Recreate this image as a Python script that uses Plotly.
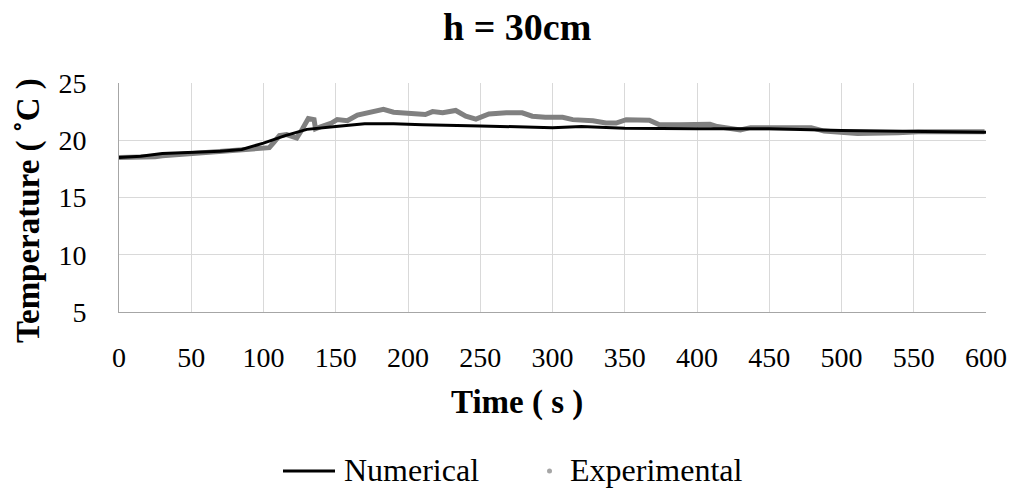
import plotly.graph_objects as go

# Numerical series
num_t = [0, 15, 30, 50, 70, 85, 100, 115, 130, 150, 170, 190, 210, 250, 300, 320, 350, 400, 450, 500, 550, 600]
num_v = [18.5, 18.6, 18.85, 18.95, 19.05, 19.2, 19.75, 20.4, 20.95, 21.2, 21.45, 21.45, 21.35, 21.25, 21.1, 21.2, 21.05, 21.0, 21.0, 20.85, 20.75, 20.7]

# Experimental series
exp_t = [0, 10, 20, 25, 30, 40, 50, 60, 70, 80, 90, 100, 104, 107, 111, 116, 120, 123, 127, 131, 135, 136,
         140, 147, 151, 158, 165, 174, 183, 190, 198, 204, 212, 217, 224, 233, 240, 247, 256, 268, 279,
         286, 295, 307, 314, 328, 337, 344, 351, 367, 374, 388, 409, 414, 430, 437, 465, 479, 488, 511,
         539, 553, 599]
exp_v = [18.5, 18.5, 18.5, 18.55, 18.65, 18.75, 18.85, 18.9, 19.0, 19.15, 19.2, 19.25, 19.35, 19.8, 20.4,
         20.5, 20.3, 20.2, 21.0, 21.9, 21.8, 21.0, 21.2, 21.5, 21.8, 21.7, 22.2, 22.5, 22.7, 22.45, 22.4,
         22.4, 22.25, 22.5, 22.4, 22.6, 22.1, 21.85, 22.3, 22.4, 22.4, 22.1, 22.0, 22.0, 21.8, 21.7, 21.5,
         21.5, 21.8, 21.75, 21.35, 21.35, 21.4, 21.2, 20.9, 21.1, 21.15, 21.1, 20.8, 20.6, 20.65, 20.75,
         20.75]

x_ticks = [0, 50, 100, 150, 200, 250, 300, 350, 400, 450, 500, 550, 600]
y_ticks = [5, 10, 15, 20, 25]

FONT = "Liberation Serif"
W, H = 1018, 489
L, R, T, B = 119, 986, 83, 312
PW, PH = R - L, B - T


def px(x):
    return (x - L) / PW


def py(y):
    return (B - y) / PH


fig = go.Figure()
fig.add_trace(go.Scatter(x=exp_t, y=exp_v, mode="lines", name="Experimental",
                         line=dict(color="#808080", width=5), showlegend=False))
fig.add_trace(go.Scatter(x=num_t, y=num_v, mode="lines", name="Numerical",
                         line=dict(color="#000000", width=3), showlegend=False))

# legend (drawn manually to match the original spacing)
LEG_Y = 471
shapes = [
    dict(type="line", xref="paper", yref="paper", x0=px(283), x1=px(335), y0=py(LEG_Y), y1=py(LEG_Y),
         line=dict(color="#000000", width=3)),
    dict(type="circle", xref="paper", yref="paper", x0=px(547), x1=px(552), y0=py(LEG_Y - 2.5),
         y1=py(LEG_Y + 2.5), fillcolor="#a6a6a6", line=dict(width=0)),
]

annotations = [
    dict(text="<b>h = 30cm</b>", x=px(517), xref="paper", y=py(27), yref="paper",
         xanchor="center", yanchor="middle", showarrow=False, font=dict(family=FONT, size=38)),
    dict(text="<b>Time ( s )</b>", x=px(517), xref="paper", y=py(402), yref="paper",
         xanchor="center", yanchor="middle", showarrow=False, font=dict(family=FONT, size=33)),
    dict(text="<b>Temperature ( ˚C )</b>", x=px(28), xref="paper", y=py(211), yref="paper",
         xanchor="center", yanchor="middle", textangle=-90, showarrow=False,
         font=dict(family=FONT, size=33)),
    dict(text="Numerical", x=px(342), xref="paper", y=py(LEG_Y - 1), yref="paper",
         xanchor="left", yanchor="middle", showarrow=False, font=dict(family=FONT, size=32)),
    dict(text="Experimental", x=px(568), xref="paper", y=py(LEG_Y - 1), yref="paper",
         xanchor="left", yanchor="middle", showarrow=False, font=dict(family=FONT, size=32)),
]

fig.update_layout(
    width=W, height=H,
    margin=dict(l=L, r=W - R, t=T, b=H - B),
    paper_bgcolor="white", plot_bgcolor="white",
    font=dict(family=FONT, size=28, color="#000000"),
    showlegend=False,
    xaxis=dict(range=[0, 600], tickvals=x_ticks, showgrid=True, gridcolor="#d9d9d9", gridwidth=1,
               showline=True, linecolor="#a6a6a6", linewidth=1, ticks="", zeroline=False,
               ticklabelstandoff=20, tickfont=dict(family=FONT, size=28)),
    yaxis=dict(range=[5, 25], tickvals=y_ticks, showgrid=True, gridcolor="#d9d9d9", gridwidth=1,
               showline=True, linecolor="#a6a6a6", linewidth=1, ticks="", zeroline=False,
               ticklabelstandoff=26, tickfont=dict(family=FONT, size=28)),
    shapes=shapes,
    annotations=annotations,
)

fig.write_html("out.html")
